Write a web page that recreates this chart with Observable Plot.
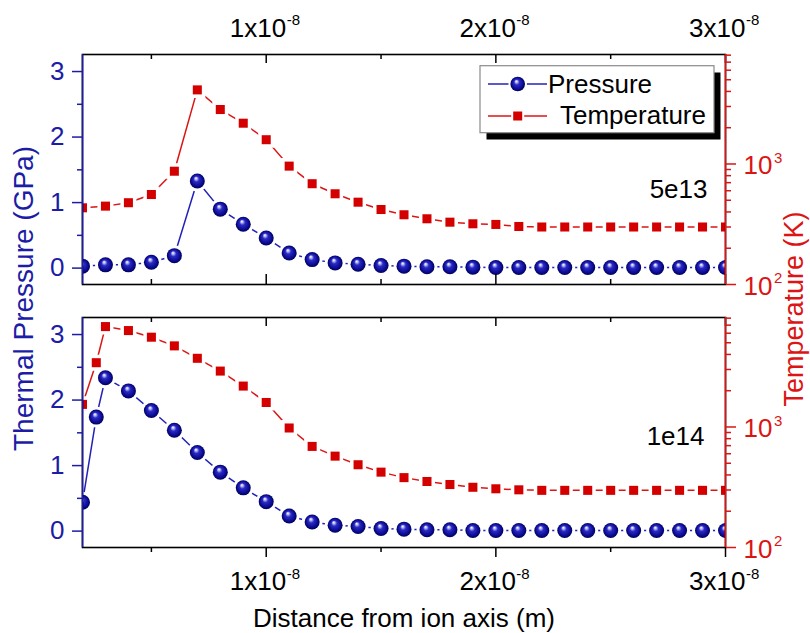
<!DOCTYPE html>
<html><head><meta charset="utf-8">
<script src="https://cdn.jsdelivr.net/npm/d3@7"></script>
<script src="https://cdn.jsdelivr.net/npm/@observablehq/plot@0.6"></script>
<style>
body{margin:0;background:#fff;}
#chart{position:relative;width:810px;height:633px;overflow:hidden;font-family:"Liberation Sans",Arimo,Arial,sans-serif;}
#chart svg{position:absolute;left:0;top:0;}
</style></head><body>
<div id="chart"></div>
<script>
// ---------- data ----------
const distanceTop = [2e-9,3e-9,4e-9,5e-9,6e-9,7e-9,8e-9,9e-9,1.0e-8,1.1e-8,1.2e-8,1.3e-8,1.4e-8,1.5e-8,1.6e-8,1.7e-8,1.8e-8,1.9e-8,2.0e-8,2.1e-8,2.2e-8,2.3e-8,2.4e-8,2.5e-8,2.6e-8,2.7e-8,2.8e-8,2.9e-8,3.0e-8];
const pressureTop = [0.03,0.05,0.05,0.09,0.19,1.33,0.90,0.67,0.46,0.23,0.13,0.08,0.06,0.04,0.03,0.02,0.02,0.015,0.01,0.01,0.01,0.01,0.01,0.01,0.01,0.01,0.01,0.01,0.01];
const temperatureTop = [433,447,477,558,871,4120,2830,2180,1590,960,686,566,482,419,379,351,329,319,315,303,300,300,300,300,300,300,300,300,300];

const distanceBottom = [2e-9,2.6e-9,3e-9,4e-9,5e-9,6e-9,7e-9,8e-9,9e-9,1.0e-8,1.1e-8,1.2e-8,1.3e-8,1.4e-8,1.5e-8,1.6e-8,1.7e-8,1.8e-8,1.9e-8,2.0e-8,2.1e-8,2.2e-8,2.3e-8,2.4e-8,2.5e-8,2.6e-8,2.7e-8,2.8e-8,2.9e-8,3.0e-8];
const pressureBottom = [0.44,1.74,2.34,2.14,1.84,1.54,1.20,0.90,0.66,0.45,0.23,0.14,0.09,0.07,0.04,0.03,0.02,0.02,0.01,0.01,0.01,0.01,0.01,0.01,0.01,0.01,0.01,0.01,0.01,0.01];
const temperatureBottom = [1540,3415,6810,6310,5560,4710,3715,2910,2185,1597,981,690,573,486,422,380,353,333,316,307,301,298,298,298,298,298,298,298,298,298];

const panelLabels = ["5e13","1e14"];
const seriesNames = ["Pressure","Temperature"];
const xTitle = "Distance from ion axis (m)";
const pTitle = "Thermal Pressure (GPa)";
const tTitle = "Temperature (K)";

const xDomain = [2e-9, 3e-8];
const pDomain = [-0.25, 3.26];
const tDomain = [100, 8100];
const xMajorTicks = [1e-8, 2e-8, 3e-8];
const xMinorTicks = [5e-9, 1.5e-8, 2.5e-8];
const pMajorTicks = [0, 1, 2, 3];
const pMinorTicks = [0.5, 1.5, 2.5];
const tMajorTicks = [100, 1000];
const tMinorTicks = [200,300,400,500,600,700,800,900,2000,3000,4000,5000,6000,7000,8000];

// ---------- style ----------
const BLUE = "#1c1ca6", BLUE_LINE = "#2222b8";
const RED = "#dc1414", RED_FILL = "#d40000";
const FONT = '"Liberation Sans", Arimo, Arial, sans-serif';
const W = 810, H = 633, ML = 82, MR = 85, PH = 230;
const TICK_FS = 26, SUP_FS = 15;

const expOf = d => Math.floor(Math.log10(d) + 1e-9);
const mantOf = d => Math.round(d / Math.pow(10, expOf(d)));

const chart = document.getElementById("chart");
function add(opts, marks) {
  const svg = Plot.plot({
    width: W, height: H, marginLeft: ML, marginRight: MR,
    marginTop: opts.mt, marginBottom: H - opts.mt - PH,
    x: Object.assign({type: "linear", domain: xDomain}, opts.xAxisNull ? {axis: null} : {}),
    y: Object.assign({domain: opts.yDomain, type: opts.yType}, opts.yAxisNull ? {axis: null} : {}),
    style: {background: "none", fontFamily: FONT, overflow: "visible"},
    marks
  });
  chart.appendChild(svg);
}

const panels = [
  {mt: 54, dist: distanceTop, p: pressureTop, t: temperatureTop, label: panelLabels[0], top: true, labelDy: 20, labelDx: -18},
  {mt: 317, dist: distanceBottom, p: pressureBottom, t: temperatureBottom, label: panelLabels[1], top: false, labelDy: 4, labelDx: -21}
];

for (const pn of panels) {
  const pData = pn.dist.map((d, i) => ({d, v: pn.p[i]}));
  const tData = pn.dist.map((d, i) => ({d, v: pn.t[i]}));

  // temperature data layer
  add({mt: pn.mt, yDomain: tDomain, yType: "log", xAxisNull: true, yAxisNull: true}, [
    Plot.line(tData, {x: "d", y: "v", stroke: RED, strokeWidth: 1.5, clip: true}),
    Plot.dot(tData, {x: "d", y: "v", symbol: "square", r: 5.1, fill: RED_FILL, stroke: "white", strokeWidth: 7, paintOrder: "stroke", clip: true})
  ]);

  // pressure data layer + frame + left axis + x ticks
  const marks = [
    Plot.line(pData, {x: "d", y: "v", stroke: BLUE_LINE, strokeWidth: 1.5, clip: true}),
    Plot.dot(pData, {x: "d", y: "v", r: 7.5, fill: "url(#ball)", stroke: "white", strokeWidth: 6, paintOrder: "stroke", clip: true}),
    Plot.frame({stroke: "black", strokeWidth: 1.6}),
    Plot.ruleX([xDomain[0]], {stroke: BLUE, strokeWidth: 1.6}),
    Plot.axisY(pMajorTicks, {anchor: "left", tickSize: 10, tickPadding: 8, color: BLUE, strokeWidth: 1.5, fontSize: TICK_FS, label: null, tickFormat: d => String(d)}),
    Plot.axisY(pMinorTicks, {anchor: "left", tickSize: 5, stroke: BLUE, fill: "none", strokeWidth: 1.5, label: null}),
    // inward ticks on the top edge
    Plot.tickX(xMajorTicks, {x: d => d, insetBottom: PH - 9, stroke: "black", strokeWidth: 1.5}),
    Plot.tickX(xMinorTicks, {x: d => d, insetBottom: PH - 5, stroke: "black", strokeWidth: 1.5}),
    Plot.text([pn.label], {frameAnchor: "right", lineAnchor: "middle", dx: pn.labelDx, dy: pn.labelDy, textAnchor: "end", text: d => d, fontSize: 26, fill: "black"})
  ];
  if (pn.top) {
    marks.push(
      Plot.tickX(xMajorTicks, {x: d => d, insetTop: PH - 10, stroke: "black", strokeWidth: 1.5}),
      Plot.tickX(xMinorTicks, {x: d => d, insetTop: PH - 5, stroke: "black", strokeWidth: 1.5}),
      Plot.text(xMajorTicks, {x: d => d, frameAnchor: "top", lineAnchor: "middle", dy: -26, dx: 20, textAnchor: "end", text: d => mantOf(d) + "x10", fontSize: TICK_FS, fill: "black"}),
      Plot.text(xMajorTicks, {x: d => d, frameAnchor: "top", lineAnchor: "middle", dy: -34, dx: 20.5, textAnchor: "start", text: d => String(expOf(d)), fontSize: SUP_FS, fill: "black"})
    );
  } else {
    marks.push(
      Plot.axisX(xMajorTicks, {anchor: "bottom", tickSize: 10, stroke: "black", fill: "none", strokeWidth: 1.5, label: null}),
      Plot.axisX(xMinorTicks, {anchor: "bottom", tickSize: 5, stroke: "black", fill: "none", strokeWidth: 1.5, label: null}),
      Plot.text(xMajorTicks, {x: d => d, frameAnchor: "bottom", lineAnchor: "middle", dy: 34, dx: 20, textAnchor: "end", text: d => mantOf(d) + "x10", fontSize: TICK_FS, fill: "black"}),
      Plot.text(xMajorTicks, {x: d => d, frameAnchor: "bottom", lineAnchor: "middle", dy: 27, dx: 20.5, textAnchor: "start", text: d => String(expOf(d)), fontSize: SUP_FS, fill: "black"}),
      Plot.text([xTitle], {frameAnchor: "bottom", lineAnchor: "middle", dy: 71, textAnchor: "middle", text: d => d, fontSize: 26, fill: "black"}),
      Plot.text([pTitle], {frameAnchor: "top-left", lineAnchor: "middle", dx: -58.5, dy: -19, rotate: -90, textAnchor: "middle", text: d => d, fontSize: 28, fill: BLUE})
    );
  }
  add({mt: pn.mt, yDomain: pDomain, yType: "linear", xAxisNull: pn.top, yAxisNull: false}, marks);

  // temperature axis layer (on top)
  const tMarks = [
    Plot.ruleX([xDomain[1]], {stroke: RED, strokeWidth: 1.6}),
    Plot.axisY(tMajorTicks, {anchor: "right", tickSize: 10, stroke: RED, fill: "none", strokeWidth: 1.5, label: null}),
    Plot.axisY(tMinorTicks, {anchor: "right", tickSize: 5, stroke: RED, fill: "none", strokeWidth: 1.5, label: null}),
    Plot.text(tMajorTicks, {y: d => d, frameAnchor: "right", lineAnchor: "middle", dx: 18, dy: 2, textAnchor: "start", text: d => "10", fontSize: TICK_FS, fill: RED}),
    Plot.text(tMajorTicks, {y: d => d, frameAnchor: "right", lineAnchor: "middle", dx: 48.5, dy: -6, textAnchor: "start", text: d => String(expOf(d)), fontSize: SUP_FS, fill: RED})
  ];
  if (pn.top) {
    tMarks.push(Plot.text([tTitle], {frameAnchor: "bottom-right", lineAnchor: "middle", dx: 69, dy: 24.5, rotate: -90, textAnchor: "middle", text: d => d, fontSize: 27, fill: RED}));
  }
  add({mt: pn.mt, yDomain: tDomain, yType: "log", xAxisNull: true, yAxisNull: false}, tMarks);
}

// ---------- legend + gradient ----------
const NS = "http://www.w3.org/2000/svg";
const lg = document.createElementNS(NS, "svg");
lg.setAttribute("width", W); lg.setAttribute("height", H);
lg.innerHTML = `
<defs><radialGradient id="ball" cx="50%" cy="50%" r="50%" fx="40%" fy="30%">
  <stop offset="0" stop-color="#ffffff"/>
  <stop offset="0.14" stop-color="#c0c0f4"/>
  <stop offset="0.38" stop-color="#2a2ac4"/>
  <stop offset="0.75" stop-color="#0d0d98"/>
  <stop offset="1" stop-color="#00005a"/>
</radialGradient></defs>
<rect x="486.5" y="72.5" width="234" height="67" fill="#000"/>
<rect x="480" y="65.7" width="234" height="67" fill="#fff" stroke="#8a8a8a" stroke-width="1.2"/>
<line x1="488" y1="84" x2="547" y2="84" stroke="${BLUE_LINE}" stroke-width="1.5"/>
<circle cx="517.7" cy="84" r="7.3" fill="url(#ball)" stroke="#fff" stroke-width="4" paint-order="stroke"/>
<text x="548" y="92.5" font-size="${TICK_FS}" font-family='${FONT}' fill="#000">${seriesNames[0]}</text>
<line x1="488" y1="116" x2="547" y2="116" stroke="${RED}" stroke-width="1.5"/>
<rect x="513.2" y="111.5" width="9" height="9" fill="${RED_FILL}" stroke="#fff" stroke-width="4" paint-order="stroke"/>
<text x="560" y="124" font-size="${TICK_FS}" font-family='${FONT}' fill="#000">${seriesNames[1]}</text>`;
chart.appendChild(lg);
</script>
</body></html>
